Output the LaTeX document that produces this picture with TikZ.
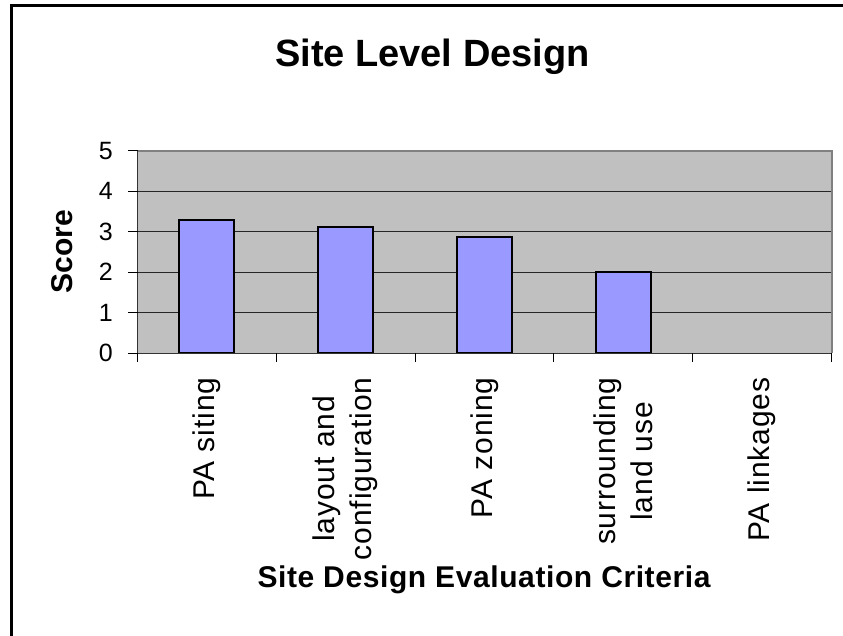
\documentclass[tikz,border=0pt]{standalone}
\usepackage{fontspec}
\setmainfont{Liberation Sans}
\usepackage{xcolor}
\definecolor{plotgray}{HTML}{C0C0C0}
\definecolor{barblue}{HTML}{9999FF}
\definecolor{framegray}{HTML}{808080}
\tikzset{
  bar/.style={draw=black,fill=barblue,line width=2pt},
  grid line/.style={line width=1pt,black!85},
  ytick/.style={font=\fontsize{25}{30}\selectfont,anchor=east,inner sep=0pt},
  xtick/.style={font=\fontsize{30}{37}\selectfont\addfontfeature{LetterSpace=3},rotate=90,anchor=east,align=center,inner sep=0pt}
}

\begin{document}
\begin{tikzpicture}[x=1pt,y=1pt]
\useasboundingbox (0,0) rectangle (843,636);
% chart frame, cut off at right and bottom
\draw[line width=3pt] (11,-10) -- (11,630.5) -- (870,630.5);

\node[font=\fontsize{38}{44}\selectfont\bfseries,anchor=base] (title) at (432.5,569) {Site Level Design};
\node[font=\fontsize{30}{36}\selectfont\bfseries,rotate=90] (ylab) at (62,384) {Score};
\node[font=\fontsize{30}{36}\selectfont\bfseries\addfontfeature{LetterSpace=2},anchor=base] (xlab) at (484,48) {Site Design Evaluation Criteria};

\begin{scope}[shift={(137.5,282.7)},x=138.8pt,y=40.55pt]
\fill[plotgray] (0,0) rectangle (5,5);
\draw[grid line] (0,1) -- (5,1);
\draw[grid line] (0,2) -- (5,2);
\draw[grid line] (0,3) -- (5,3);
\draw[grid line] (0,4) -- (5,4);
\draw[framegray,line width=2pt] (0,5) -- (5,5) -- (5,0);

\draw[bar] (0.302,0) rectangle (0.698,3.28);
\draw[bar] (1.302,0) rectangle (1.698,3.12);
\draw[bar] (2.302,0) rectangle (2.698,2.86);
\draw[bar] (3.302,0) rectangle (3.698,2.0);

\draw[line width=1.2pt,black!80] (0,5) -- (0,0) -- (5,0);
\foreach \k in {0,...,5} {
  \draw[line width=1pt] (0,\k) -- ++(-10pt,0);
  \node[ytick] (y\k) at ([xshift=-24.5pt]0,\k) {\k};
}
\foreach \i in {0,...,5}
  \draw[line width=1pt] (\i,0) -- ++(0,-9pt);

\node[xtick] (c1) at ([yshift=-24pt]0.5,0) {PA siting};
\node[xtick] (c2) at ([yshift=-24pt]1.5,0) {layout and\\configuration};
\node[xtick] (c3) at ([yshift=-24pt]2.5,0) {PA zoning};
\node[xtick] (c4) at ([yshift=-24pt]3.5,0) {surrounding\\land use};
\node[xtick] (c5) at ([yshift=-24pt]4.5,0) {PA linkages};
\end{scope}
\end{tikzpicture}
\end{document}
